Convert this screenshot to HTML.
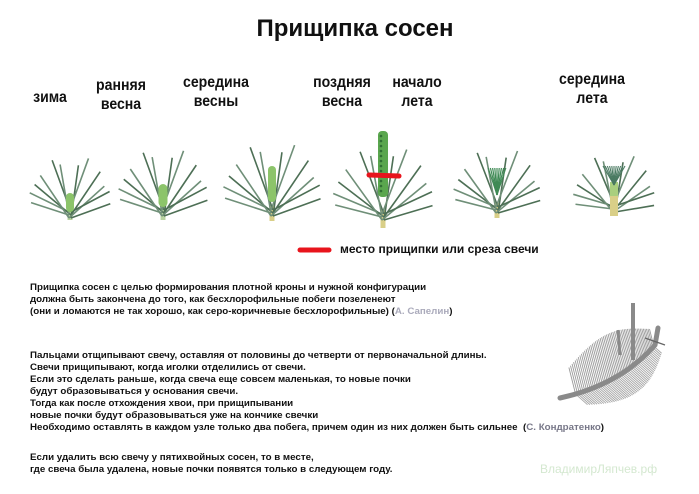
<!DOCTYPE html>
<html><head><meta charset="utf-8">
<style>
html,body{margin:0;padding:0;background:#fff;}
body{width:699px;height:494px;position:relative;overflow:hidden;font-family:"Liberation Sans","DejaVu Sans",sans-serif;}
.t{position:absolute;font-weight:bold;color:#111;white-space:nowrap;}
.h{position:absolute;font-weight:bold;color:#111;font-size:16px;line-height:19px;text-align:center;width:120px;transform:scaleX(0.88);}
.p{position:absolute;left:30px;font-weight:bold;font-size:9.2px;color:#111;white-space:nowrap;line-height:12px;transform-origin:0 0;transform:scaleX(1.06);}
.g{color:#aab;}
</style></head><body>
<div class="t" style="left:0;width:710px;text-align:center;top:15px;font-size:24px;">Прищипка сосен</div>
<div class="h" style="left:-10px;top:88px;">зима</div>
<div class="h" style="left:61px;top:76px;">ранняя<br>весна</div>
<div class="h" style="left:156px;top:73px;">середина<br>весны</div>
<div class="h" style="left:282px;top:73px;">поздняя<br>весна</div>
<div class="h" style="left:357px;top:73px;">начало<br>лета</div>
<div class="h" style="left:532px;top:70px;">середина<br>лета</div>

<svg id="s" width="699" height="494" style="position:absolute;left:0;top:0">
<path d="M300 250 L329 250" stroke="#e8141c" stroke-width="5" stroke-linecap="round"/>
</svg>
<div class="t" style="left:340px;top:242px;font-size:12px;transform:scaleX(1.0);transform-origin:0 0;">место прищипки или среза свечи</div>

<div class="p" style="top:281px">Прищипка сосен с целью формирования плотной кроны и нужной конфигурации</div>
<div class="p" style="top:293px">должна быть закончена до того, как бесхлорофильные побеги позеленеют</div>
<div class="p" style="top:305px">(они и ломаются не так хорошо, как серо-коричневые бесхлорофильные) (<span class="g">А. Сапелин</span>)</div>

<div class="p" style="top:349px">Пальцами отщипывают свечу, оставляя от половины до четверти от первоначальной длины.</div>
<div class="p" style="top:361px">Свечи прищипывают, когда иголки отделились от свечи.</div>
<div class="p" style="top:373px">Если это сделать раньше, когда свеча еще совсем маленькая, то новые почки</div>
<div class="p" style="top:385px">будут образовываться у основания свечи.</div>
<div class="p" style="top:397px">Тогда как после отхождения хвои, при прищипывании</div>
<div class="p" style="top:409px">новые почки будут образовываться уже на кончике свечки</div>
<div class="p" style="top:421px">Необходимо оставлять в каждом узле только два побега, причем один из них должен быть сильнее&nbsp; (<span style="color:#778">С. Кондратенко</span>)</div>

<div class="p" style="top:451px">Если удалить всю свечу у пятихвойных сосен, то в месте,</div>
<div class="p" style="top:463px">где свеча была удалена, новые почки появятся только в следующем году.</div>
<div class="t" style="left:540px;top:462px;font-size:12px;color:#d4e8d0;font-weight:normal;">ВладимирЛяпчев.рф</div>

<script>
var s=document.getElementById('s');var NS='http://www.w3.org/2000/svg';
function el(n,a){var e=document.createElementNS(NS,n);for(var k in a)e.setAttribute(k,a[k]);s.appendChild(e);return e;}
function plant(cx,base,oy,sc,stemCol,bud,sp){
 var ang=[-64,-50,-34,-20,-10,8,20,34,48,62,-72,70];
 var len=[46,50,54,58,54,56,60,55,50,46,42,44];
 el('line',{x1:cx,y1:base,x2:cx,y2:oy-4,stroke:stemCol,'stroke-width':5});
 for(var i=0;i<ang.length;i++){
  var a=ang[i]*Math.PI/180*sp, L=len[i]*sc;
  var ox=cx+(i%2?1:-1)*1, y0=oy+(i%3)*3;
  el('line',{x1:ox,y1:y0,x2:ox+Math.sin(a)*L,y2:y0-Math.cos(a)*L,stroke:(i%2?'#4d6f55':'#6f8f78'),'stroke-width':1.6});
 }
 if(bud)el('rect',{x:cx-bud.w/2,y:bud.y1,width:bud.w,height:bud.y2-bud.y1,rx:bud.w/2,fill:bud.col});
}
plant(70,220,212,0.95,'#b8d3a0',{y1:193,y2:212,w:8,col:'#8cc46a'},1.0);
plant(163,220,210,1.05,'#b8d3a0',{y1:184,y2:207,w:9,col:'#8cc46a'},1.0);
plant(272,221,210,1.15,'#d9cf88',{y1:166,y2:202,w:8,col:'#8cc46a'},1.0);
plant(383,228,214,1.15,'#d9cf88',null,1.05);
el('rect',{x:378,y:131,width:10,height:66,rx:4,fill:'#5aa64e'});
for(var y=136;y<194;y+=5){el('circle',{cx:381+(y%10?0:4),cy:y,r:1.3,fill:'#2f6e33'});}
el('path',{d:'M369 175 L399 176',stroke:'#e8141c','stroke-width':5,'stroke-linecap':'round'});
plant(497,218,207,1.0,'#d9cf88',null,1.05);
for(var i=-4;i<=4;i++)el('line',{x1:497,y1:195,x2:497+i*2.2,y2:168,stroke:'#3f8a55','stroke-width':1.2});
plant(614,216,206,0.9,'#d9cf88',null,1.15);
el('rect',{x:610,y:182,width:8,height:34,fill:'#d9cf88'});
el('rect',{x:610,y:182,width:8,height:14,fill:'#a9cf7e'});
for(var i=-5;i<=5;i++)el('line',{x1:614,y1:185,x2:614+i*2.2,y2:166,stroke:'#4a7a62','stroke-width':1.1});
var g='#8a8a8a';
function q(t){var x0=560,y0=398,x1=620,y1=385,x2=655,y2=345;var u=1-t;return [u*u*x0+2*u*t*x1+t*t*x2,u*u*y0+2*u*t*y1+t*t*y2];}
for(var i=8;i<60;i++){var t=i/60;var p=q(t);var L=16+26*Math.sin(Math.PI*t);
 el('line',{x1:p[0],y1:p[1],x2:p[0]-L*0.25,y2:p[1]-L,stroke:'#9a9a9a','stroke-width':0.9});
 el('line',{x1:p[0],y1:p[1],x2:p[0]+L*0.45,y2:p[1]+L*0.4,stroke:'#a5a5a5','stroke-width':0.9});}
el('path',{d:'M560 398 Q620 385 655 345 L658 328',stroke:g,'stroke-width':5,fill:'none','stroke-linecap':'round'});
el('line',{x1:633,y1:303,x2:633,y2:360,stroke:g,'stroke-width':4});
el('line',{x1:618,y1:330,x2:620,y2:355,stroke:g,'stroke-width':3});
el('line',{x1:645,y1:338,x2:665,y2:345,stroke:'#666','stroke-width':1.2});
</script>
</body></html>
